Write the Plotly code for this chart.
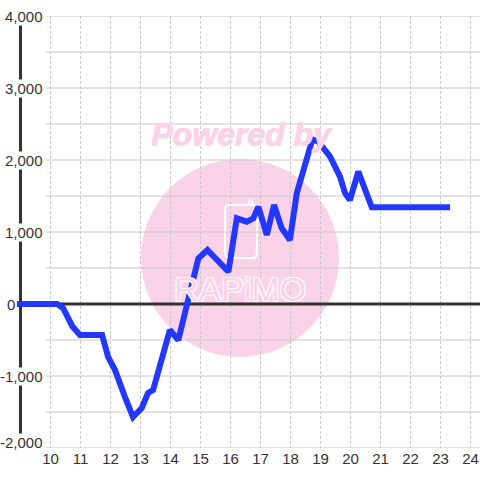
import plotly.graph_objects as go

# ---- data ----
x_vals = [8.88, 10.22, 10.42, 10.72, 10.98, 11.72, 11.92, 12.15, 12.48, 12.75, 13.04, 13.25,
          13.42, 13.98, 14.26, 14.93, 15.23, 15.93, 16.21, 16.54, 16.76, 16.93, 17.21, 17.45,
          17.71, 17.98, 18.21, 18.73, 18.93, 19.32, 19.65, 19.82, 19.98, 20.26, 20.71, 23.32]
y_vals = [0, 0, -55, -305, -430, -430, -736, -917, -1290, -1570, -1444, -1236,
          -1194, -361, -500, 635, 750, 449, 1190, 1143, 1190, 1351, 958, 1375,
          1051, 889, 1538, 2285, 2254, 2046, 1768, 1538, 1444, 1838, 1343, 1343]
x_ticks = list(range(10, 25))
y_ticks = [-2000, -1000, 0, 1000, 2000, 3000, 4000]
y_tick_labels = ["-2,000", "-1,000", "0", "1,000", "2,000", "3,000", "4,000"]
y_grid = [-2000, -1500, -1000, -500, 0, 500, 1000, 1500, 2000, 2500, 3000, 3500, 4000]

X_MIN, X_MAX = 10 - 50.5 / 30, 10 + 429.5 / 30
GRID_X0 = 10 - 4.5 / 30
AXIS_X = 9

PINK = "#fbd3e9"
TEXT = "#333333"

fig = go.Figure()

fig.add_trace(go.Scatter(
    x=x_vals, y=y_vals, mode="lines",
    line=dict(color="#2238ff", width=6),
    hoverinfo="skip", showlegend=False,
))

shapes = []
# watermark circle
shapes.append(dict(type="circle", xref="paper", yref="y",
                   x0=141 / 480, x1=339 / 480, y0=-736, y1=2014,
                   fillcolor=PINK, line=dict(width=0), layer="below"))
# phone outline in logo
shapes.append(dict(type="path", xref="x", yref="y",
                   path="M 15.95,1375 L 16.75,1375 Q 16.88,1375 16.88,1300 L 16.88,715 "
                        "Q 16.88,640 16.75,640 L 15.95,640 Q 15.82,640 15.82,715 L 15.82,1300 "
                        "Q 15.82,1375 15.95,1375 Z",
                   line=dict(color="white", width=2), layer="below"))
shapes.append(dict(type="path", xref="x", yref="y",
                   path="M 16.62,1375 L 16.62,1440 L 16.72,1440 L 16.72,1375",
                   line=dict(color="white", width=2), layer="below"))
# horizontal gridlines
for g in y_grid:
    if g == 0:
        continue
    shapes.append(dict(type="line", xref="x", yref="y", x0=GRID_X0, x1=X_MAX, y0=g, y1=g,
                       line=dict(color="#c8c8c8", width=1), layer="between"))
# zero line
shapes.append(dict(type="line", xref="x", yref="y", x0=AXIS_X, x1=X_MAX, y0=0, y1=0,
                   line=dict(color="#333333", width=3), layer="between"))
# y axis line
shapes.append(dict(type="line", xref="x", yref="y", x0=AXIS_X, x1=AXIS_X, y0=-2000, y1=4000,
                   line=dict(color="#333333", width=3), layer="between"))

annotations = []
annotations.append(dict(text="Powered by", xref="paper", yref="y", x=242 / 480, y=2361,
                        showarrow=False,
                        font=dict(family="Liberation Sans", size=32, color=PINK,
                                  weight="bold", style="italic",
                                  shadow="1px 0 0 #fbd3e9, 0 1px 0 #fbd3e9")))
annotations.append(dict(text="RAPiMO", xref="paper", yref="y", x=0.5, y=208,
                        showarrow=False,
                        font=dict(family="Liberation Sans", size=34, color=PINK,
                                  shadow="1px 1px 0 #fff, -1px -1px 0 #fff, 1px -1px 0 #fff, -1px 1px 0 #fff")))
for v, lab in zip(y_ticks, y_tick_labels):
    if v == 0:
        annotations.append(dict(text=lab, xref="paper", yref="y", x=16.5 / 480, y=v,
                                xanchor="right", yanchor="middle", showarrow=False,
                                font=dict(family="Liberation Sans", size=15, color=TEXT)))
    else:
        annotations.append(dict(text=lab, xref="paper", yref="y", x=43.5 / 480, y=v,
                                xanchor="right", yanchor="middle", showarrow=False,
                                bgcolor="white", borderpad=0,
                                yshift=6 if v == -2000 else 0,
                                font=dict(family="Liberation Sans", size=15, color=TEXT)))

fig.update_layout(
    width=480, height=480,
    margin=dict(l=0, r=0, t=16, b=32),
    paper_bgcolor="white", plot_bgcolor="white",
    shapes=shapes, annotations=annotations,
    xaxis=dict(range=[X_MIN, X_MAX], tickvals=x_ticks, showgrid=True,
               gridcolor="#c8c8c8", gridwidth=1, griddash="3px,2px",
               zeroline=False, showline=False, ticks="",
               tickfont=dict(family="Liberation Sans", size=15, color=TEXT),
               fixedrange=True),
    yaxis=dict(range=[-2000, 4000], showgrid=False, zeroline=False, showline=False,
               showticklabels=False, ticks="", fixedrange=True),
    showlegend=False,
)

fig.write_html("out.html", config={"displayModeBar": False},
               post_script="document.body.style.margin='0';")
